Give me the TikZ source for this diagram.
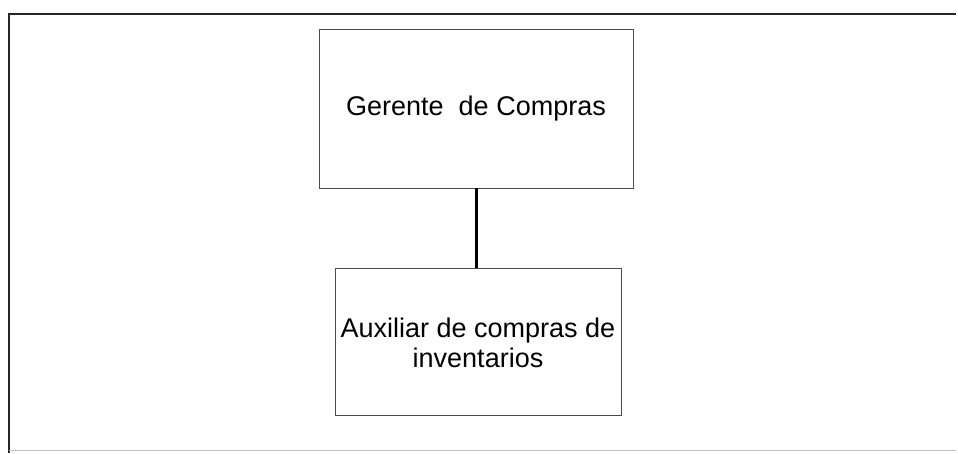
\documentclass[tikz,border=0pt]{standalone}
\usepackage{fontspec}
\setmainfont{Liberation Sans}
\usetikzlibrary{positioning}

\begin{document}
\begin{tikzpicture}[x=1pt,y=1pt,
        caja/.style={draw=black!70, line width=0.9pt, align=center,
                     font=\fontsize{27}{30}\selectfont, inner sep=0pt},
        linea/.style={line width=3pt, black}]
                \useasboundingbox (0,0) rectangle (958,453);
                % marco
                \draw[line width=2pt, black!85] (956,439) -- (9,439) -- (9,0);
                \draw[black!25, line width=0.8pt] (9,3) -- (956,3);
                % organigrama
                \node[caja, minimum width=314pt, minimum height=159pt] (gerente) at (476,344.5) {Gerente\ \ de Compras};
                \node[caja, minimum width=286pt, minimum height=147pt, below=80pt of gerente, xshift=2pt] (auxiliar) {Auxiliar de compras de\\inventarios};
                \draw[linea] (gerente.south) -- (gerente.south |- auxiliar.north);
            \end{tikzpicture}
\end{document}
